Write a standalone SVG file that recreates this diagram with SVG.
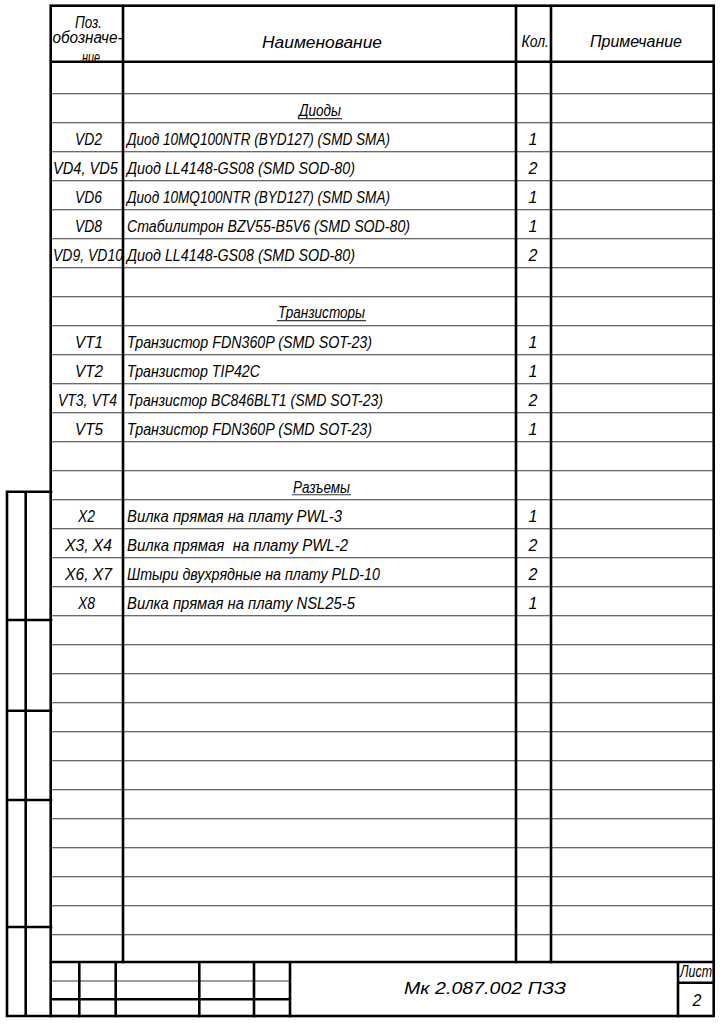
<svg xmlns="http://www.w3.org/2000/svg" width="724" height="1024" viewBox="0 0 724 1024">
<style>
.k{stroke:#000;stroke-width:2.6;fill:none;stroke-linecap:square}
.n{stroke:#3a3a3a;stroke-width:1.1;fill:none}
.t{font-family:"Liberation Sans",Arial,sans-serif;font-style:italic;font-size:16px;fill:#000}
.c{text-anchor:middle}
</style>
<defs>
<clipPath id="hc"><rect x="52" y="7" width="70" height="54"/></clipPath>
</defs>
<rect width="724" height="1024" fill="#fff"/>

<g id="rows-lines">
<path class="n" d="M51 93.7H713M51 122.7H713M51 151.7H713M51 180.7H713M51 209.7H713M51 238.7H713M51 267.7H713M51 296.7H713M51 325.7H713M51 354.7H713M51 383.7H713M51 412.7H713M51 441.7H713M51 470.7H713M51 499.7H713M51 528.7H713M51 557.7H713M51 586.7H713M51 615.7H713M51 644.7H713M51 673.7H713M51 702.7H713M51 731.7H713M51 760.7H713M51 789.7H713M51 818.7H713M51 847.7H713M51 876.7H713M51 905.7H713M51 934.7H713"/>
</g>

<g id="grid">
<path class="k" d="M123 6V962M516 6V962M551 6V962M51 61.7H713"/>
</g>

<g id="header">
<g clip-path="url(#hc)">
<text class="t" x="75" y="28" font-size="12.5" textLength="27" lengthAdjust="spacingAndGlyphs">Поз.</text>
<text class="t" x="52.5" y="43.3" font-size="12.5" textLength="70" lengthAdjust="spacingAndGlyphs">обозначе-</text>
<text class="t" x="82" y="63" font-size="12.5" textLength="18" lengthAdjust="spacingAndGlyphs">ние</text>
</g>
<text class="t" x="262" y="48.3" font-size="21" textLength="120" lengthAdjust="spacingAndGlyphs">Наименование</text>
<text class="t" x="521.5" y="46.7" font-size="15.5" textLength="27.5" lengthAdjust="spacingAndGlyphs">Кол.</text>
<text class="t" x="590" y="46.7" font-size="18" textLength="92" lengthAdjust="spacingAndGlyphs">Примечание</text>
</g>

<g id="section-diodes">
<text class="t" x="299" y="116.3" textLength="42" lengthAdjust="spacingAndGlyphs">Диоды</text>
<path class="n" d="M298 118.6H342" stroke="#000"/>
<text class="t" x="75" y="145" textLength="27" lengthAdjust="spacingAndGlyphs">VD2</text>
<text class="t" x="127" y="145" textLength="263" lengthAdjust="spacingAndGlyphs">Диод 10MQ100NTR (BYD127) (SMD SMA)</text>
<text class="t c" x="533" y="145">1</text>
<text class="t" x="53" y="174" textLength="65" lengthAdjust="spacingAndGlyphs">VD4, VD5</text>
<text class="t" x="127" y="174" textLength="228" lengthAdjust="spacingAndGlyphs">Диод LL4148-GS08 (SMD SOD-80)</text>
<text class="t c" x="533" y="174">2</text>
<text class="t" x="75" y="203" textLength="27" lengthAdjust="spacingAndGlyphs">VD6</text>
<text class="t" x="127" y="203" textLength="263" lengthAdjust="spacingAndGlyphs">Диод 10MQ100NTR (BYD127) (SMD SMA)</text>
<text class="t c" x="533" y="203">1</text>
<text class="t" x="75" y="232" textLength="27" lengthAdjust="spacingAndGlyphs">VD8</text>
<text class="t" x="127" y="232" textLength="283" lengthAdjust="spacingAndGlyphs">Стабилитрон BZV55-B5V6 (SMD SOD-80)</text>
<text class="t c" x="533" y="232">1</text>
<text class="t" x="53" y="261" textLength="70" lengthAdjust="spacingAndGlyphs">VD9, VD10</text>
<text class="t" x="127" y="261" textLength="228" lengthAdjust="spacingAndGlyphs">Диод LL4148-GS08 (SMD SOD-80)</text>
<text class="t c" x="533" y="261">2</text>
</g>

<g id="section-transistors">
<text class="t" x="278" y="318.3" textLength="87" lengthAdjust="spacingAndGlyphs">Транзисторы</text>
<path class="n" d="M277 320.6H366" stroke="#000"/>
<text class="t" x="75" y="348" textLength="28" lengthAdjust="spacingAndGlyphs">VT1</text>
<text class="t" x="127" y="348" textLength="245" lengthAdjust="spacingAndGlyphs">Транзистор FDN360P (SMD SOT-23)</text>
<text class="t c" x="533" y="348">1</text>
<text class="t" x="75" y="377" textLength="28" lengthAdjust="spacingAndGlyphs">VT2</text>
<text class="t" x="127" y="377" textLength="133" lengthAdjust="spacingAndGlyphs">Транзистор TIP42C</text>
<text class="t c" x="533" y="377">1</text>
<text class="t" x="58" y="406" textLength="59" lengthAdjust="spacingAndGlyphs">VT3, VT4</text>
<text class="t" x="127" y="406" textLength="256" lengthAdjust="spacingAndGlyphs">Транзистор BC846BLT1 (SMD SOT-23)</text>
<text class="t c" x="533" y="406">2</text>
<text class="t" x="75" y="435" textLength="28" lengthAdjust="spacingAndGlyphs">VT5</text>
<text class="t" x="127" y="435" textLength="245" lengthAdjust="spacingAndGlyphs">Транзистор FDN360P (SMD SOT-23)</text>
<text class="t c" x="533" y="435">1</text>
</g>

<g id="section-connectors">
<text class="t" x="293" y="492.5" textLength="57" lengthAdjust="spacingAndGlyphs">Разъемы</text>
<path class="n" d="M292 494.8H351" stroke="#000"/>
<text class="t" x="78" y="522" textLength="17" lengthAdjust="spacingAndGlyphs">X2</text>
<text class="t" x="127" y="522" textLength="215" lengthAdjust="spacingAndGlyphs">Вилка прямая на плату PWL-3</text>
<text class="t c" x="533" y="522">1</text>
<text class="t" x="65" y="551" textLength="47" lengthAdjust="spacingAndGlyphs">X3, X4</text>
<text class="t" x="127" y="551" textLength="221" lengthAdjust="spacingAndGlyphs" xml:space="preserve">Вилка прямая  на плату PWL-2</text>
<text class="t c" x="533" y="551">2</text>
<text class="t" x="65" y="580" textLength="47" lengthAdjust="spacingAndGlyphs">X6, X7</text>
<text class="t" x="127" y="580" textLength="253" lengthAdjust="spacingAndGlyphs">Штыри двухрядные на плату PLD-10</text>
<text class="t c" x="533" y="580">2</text>
<text class="t" x="78" y="609" textLength="17" lengthAdjust="spacingAndGlyphs">X8</text>
<text class="t" x="127" y="609" textLength="228" lengthAdjust="spacingAndGlyphs">Вилка прямая на плату NSL25-5</text>
<text class="t c" x="533" y="609">1</text>
</g>

<g id="title-block">
<path class="n" d="M51 981H290" stroke="#000" stroke-width="1.3"/>
<path class="k" d="M51 962H713M51 999.3H290M79.3 962V1016M115.7 962V1016M199.3 962V1016M254 962V1016M290 962V1016M678 962V1016M678 982.7H713"/>
<text class="t" x="404" y="994" font-size="25" textLength="162" lengthAdjust="spacingAndGlyphs">Мк 2.087.002 ПЗЗ</text>
<text class="t" x="680" y="976.7" font-size="14" textLength="32" lengthAdjust="spacingAndGlyphs">Лист</text>
<text class="t c" x="697" y="1006" font-size="16">2</text>
</g>

<g id="binding-strip">
<path class="k" d="M7 491.7V1016H51M25.7 491.7V1016M7 491.7H51M7 620H51M7 710.7H51M7 800H51M7 927H51"/>
</g>

<g id="frame">
<rect class="k" x="50.7" y="5.7" width="663" height="1010.3"/>
</g>
</svg>
